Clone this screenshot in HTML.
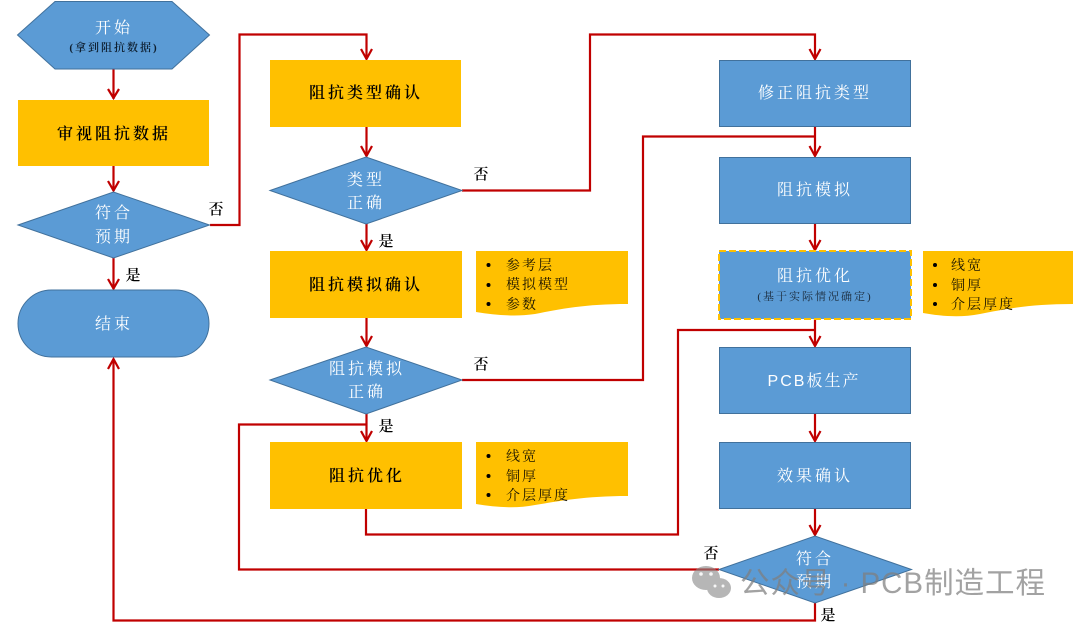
<!DOCTYPE html>
<html><head><meta charset="utf-8"><style>
html,body{margin:0;padding:0;background:#fff;width:1080px;height:626px;overflow:hidden}
svg{display:block}
text{font-family:"Liberation Serif","Noto Serif CJK SC",serif;text-anchor:middle}
.w{fill:#fff;font-size:16px;letter-spacing:3px}
.k{fill:#000;font-size:16px;letter-spacing:3px;font-weight:600}
.s{fill:#1a2a3a;font-size:11px;letter-spacing:2px}
.l{fill:#000;font-size:15px;font-weight:600}
.n{fill:#1a1400;font-size:14px;letter-spacing:2px;text-anchor:start}
.b{fill:#5b9bd5;stroke:#41719c;stroke-width:1}
.y{fill:#ffc000}
.c{fill:none;stroke:#c00000;stroke-width:2.2}
.a{fill:none;stroke:#c00000;stroke-width:2.2}
</style></head><body>
<svg width="1080" height="626" viewBox="0 0 1080 626" xmlns="http://www.w3.org/2000/svg">
<!-- connectors -->
<path class="c" d="M113.500 69V99M113.500 166V191M113.500 258V289"/>
<path class="c" d="M210 225H239.500V34.500H366.500V59"/>
<path class="c" d="M366.500 127V156M366.500 224V250M366.500 318V346M366.500 414V441"/>
<path class="c" d="M462 190.500H590V34.500H815V59"/>
<path class="c" d="M815 127V156M815 224V250M815 319V346M815 414V441M815 509V535"/>
<path class="c" d="M462 380H643V136.500H815"/>
<path class="c" d="M366 509V534.500H678V330H815"/>
<path class="c" d="M719 569.500H239V424.500H366"/>
<path class="c" d="M815 603V620.500H113.500V359"/>
<!-- arrowheads -->
<path class="a" d="M108 89L113.500 98L119 89M108 181L113.500 190.500L119 181M108 279L113.500 288.500L119 279M108 369L113.500 359L119 369"/>
<path class="a" d="M361 49L366.500 59L372 49M361 146L366.500 156L372 146M361 240L366.500 250L372 240M361 336L366.500 346L372 336M361 431L366.500 441L372 431"/>
<path class="a" d="M809.500 49L815 59L820.500 49M809.500 146L815 156L820.500 146M809.500 240L815 250L820.500 240M809.500 336L815 346L820.500 336M809.500 431L815 441L820.500 431M809.500 525L815 535L820.500 525"/>
<!-- col 1 -->
<polygon class="b" points="17.500,35 55,1.500 172,1.500 209.500,35 172,69 55,69"/>
<rect class="y" x="18" y="100" width="191" height="66"/>
<polygon class="b" points="18,225 113.500,192 209.500,225 113.500,258"/>
<rect class="b" x="18" y="290" width="191" height="67" rx="33.500"/>
<!-- col 2 -->
<rect class="y" x="270" y="60" width="191" height="67"/>
<polygon class="b" points="270,190.500 366,157 462,190.500 366,224"/>
<rect class="y" x="270" y="251" width="192" height="67"/>
<polygon class="b" points="270,380 366,347 462,380 366,414"/>
<rect class="y" x="270" y="442" width="192" height="67"/>
<!-- notes -->
<path class="y" d="M476 251H628V304C585 304 560 309 535 314C515 317 495 315 476 312Z"/>
<path class="y" d="M476 442H628V496C585 496 560 501 535 505C515 509 495 507 476 504Z"/>
<path class="y" d="M923 251H1073V304C1030 304 1005 309 980 314C960 318 940 316 923 313Z"/>
<!-- col 3 -->
<rect class="b" x="719.500" y="60.500" width="191" height="66"/>
<rect class="b" x="719.500" y="157.500" width="191" height="66"/>
<rect x="719" y="251" width="192" height="68" fill="#5b9bd5" stroke="#ffc000" stroke-width="2" stroke-dasharray="7 3"/>
<rect class="b" x="719.500" y="347.500" width="191" height="66"/>
<rect class="b" x="719.500" y="442.500" width="191" height="66"/>
<polygon class="b" points="719,569.500 815,536 911.500,569.500 815,603"/>
<!-- text col 1 -->
<text class="w" x="114" y="33">开始</text>
<text class="s" x="114" y="51" style="fill:#0c1c2c;font-weight:600">(拿到阻抗数据)</text>
<text class="k" x="114" y="139">审视阻抗数据</text>
<text class="w" x="114" y="218">符合</text>
<text class="w" x="114" y="242">预期</text>
<text class="w" x="114" y="329">结束</text>
<text class="l" x="216" y="214">否</text>
<text class="l" x="133" y="280">是</text>
<!-- text col 2 -->
<text class="k" x="366" y="98">阻抗类型确认</text>
<text class="w" x="366" y="185">类型</text>
<text class="w" x="366" y="208">正确</text>
<text class="k" x="366" y="290">阻抗模拟确认</text>
<text class="w" x="367" y="374">阻抗模拟</text>
<text class="w" x="367" y="397">正确</text>
<text class="k" x="367" y="481">阻抗优化</text>
<text class="l" x="481" y="179">否</text>
<text class="l" x="386" y="246">是</text>
<text class="l" x="481" y="369">否</text>
<text class="l" x="386" y="431">是</text>
<!-- notes text -->
<g>
<circle cx="488.500" cy="265" r="2" fill="#000"/><circle cx="488.500" cy="285" r="2" fill="#000"/><circle cx="488.500" cy="304" r="2" fill="#000"/>
<text class="n" x="506" y="270">参考层</text><text class="n" x="506" y="289">模拟模型</text><text class="n" x="506" y="309">参数</text>
<circle cx="488.500" cy="456" r="2" fill="#000"/><circle cx="488.500" cy="476" r="2" fill="#000"/><circle cx="488.500" cy="495" r="2" fill="#000"/>
<text class="n" x="506" y="461">线宽</text><text class="n" x="506" y="481">铜厚</text><text class="n" x="506" y="500">介层厚度</text>
<circle cx="935" cy="265" r="2" fill="#000"/><circle cx="935" cy="285" r="2" fill="#000"/><circle cx="935" cy="304" r="2" fill="#000"/>
<text class="n" x="951" y="270">线宽</text><text class="n" x="951" y="290">铜厚</text><text class="n" x="951" y="309">介层厚度</text>
</g>
<!-- text col 3 -->
<text class="w" x="815" y="98">修正阻抗类型</text>
<text class="w" x="815" y="195">阻抗模拟</text>
<text class="w" x="815" y="281">阻抗优化</text>
<text class="s" x="815" y="300">(基于实际情况确定)</text>
<text x="814" y="386" style="fill:#fff;font-size:16px;letter-spacing:2px;font-family:'Liberation Sans','Noto Serif CJK SC',sans-serif">PCB板生产</text>
<text class="w" x="815" y="481">效果确认</text>
<text class="w" x="815" y="564">符合</text>
<text class="w" x="815" y="587">预期</text>
<text class="l" x="711" y="558">否</text>
<text class="l" x="828" y="620">是</text>
<!-- watermark -->
<g opacity="0.62" fill="#8a8a8a">
<ellipse cx="706" cy="578" rx="14" ry="12"/>
<ellipse cx="719" cy="588" rx="12" ry="10"/>
</g>
<g fill="#fff" opacity="0.9"><circle cx="701" cy="574" r="1.800"/><circle cx="711" cy="574" r="1.800"/><circle cx="715" cy="586" r="1.500"/><circle cx="723" cy="586" r="1.500"/></g>
<text x="740" y="593" textLength="305" lengthAdjust="spacing" style="text-anchor:start;fill:#7f7f7f;opacity:.72;font-size:29.500px;font-family:'Liberation Sans','Noto Sans CJK SC',sans-serif">公众号 · PCB制造工程</text>
</svg>
</body></html>
